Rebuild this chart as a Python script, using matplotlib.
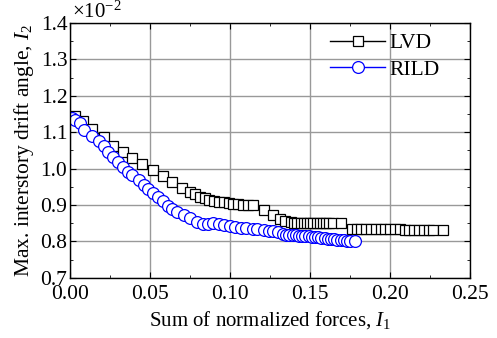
import matplotlib.pyplot as plt
from matplotlib.ticker import MultipleLocator, FormatStrFormatter

plt.rcParams['font.family'] = 'Liberation Serif'
plt.rcParams['mathtext.fontset'] = 'custom'
plt.rcParams['mathtext.rm'] = 'Liberation Serif'
plt.rcParams['mathtext.it'] = 'Liberation Serif:italic'

# LVD (squares)
lvd_x = [0.003, 0.008, 0.014, 0.021, 0.027, 0.033, 0.039, 0.045, 0.052, 0.058,
         0.064, 0.070, 0.075, 0.078, 0.081, 0.084, 0.087, 0.090, 0.093, 0.096,
         0.099, 0.102, 0.105, 0.108, 0.111, 0.114, 0.121, 0.127, 0.131, 0.134,
         0.138, 0.140, 0.142, 0.144, 0.146, 0.148, 0.150, 0.152, 0.154, 0.156,
         0.158, 0.160, 0.162, 0.164, 0.169, 0.176, 0.179, 0.182, 0.185, 0.188,
         0.191, 0.194, 0.197, 0.200, 0.203, 0.206, 0.209, 0.212, 0.215, 0.218,
         0.221, 0.224, 0.227, 0.233]
lvd_y = [1.145, 1.130, 1.108, 1.086, 1.062, 1.047, 1.030, 1.012, 0.997, 0.979,
         0.962, 0.948, 0.937, 0.929, 0.922, 0.918, 0.915, 0.912, 0.909, 0.907,
         0.905, 0.903, 0.902, 0.901, 0.900, 0.899, 0.887, 0.873, 0.862, 0.855,
         0.852, 0.851, 0.851, 0.851, 0.851, 0.851, 0.851, 0.851, 0.851, 0.851,
         0.851, 0.851, 0.851, 0.851, 0.851, 0.834, 0.834, 0.834, 0.833, 0.833,
         0.833, 0.833, 0.833, 0.833, 0.833, 0.833, 0.832, 0.832, 0.832, 0.832,
         0.832, 0.832, 0.832, 0.832]

# RILD (circles)
rild_x = [0.001, 0.003, 0.006, 0.009, 0.014, 0.018, 0.021, 0.024, 0.027, 0.030,
          0.033, 0.036, 0.039, 0.043, 0.046, 0.049, 0.052, 0.055, 0.058, 0.061,
          0.064, 0.067, 0.071, 0.075, 0.079, 0.083, 0.086, 0.089, 0.093, 0.096,
          0.100, 0.103, 0.107, 0.110, 0.114, 0.117, 0.121, 0.124, 0.127, 0.130,
          0.133, 0.135, 0.137, 0.139, 0.141, 0.143, 0.145, 0.147, 0.149, 0.151,
          0.153, 0.155, 0.157, 0.159, 0.161, 0.163, 0.165, 0.167, 0.169, 0.171,
          0.173, 0.175, 0.178]
rild_y = [1.140, 1.133, 1.125, 1.107, 1.090, 1.075, 1.061, 1.047, 1.033, 1.019,
          1.005, 0.992, 0.982, 0.969, 0.956, 0.943, 0.934, 0.921, 0.910, 0.897,
          0.888, 0.880, 0.872, 0.864, 0.854, 0.848, 0.849, 0.850, 0.848, 0.845,
          0.842, 0.840, 0.838, 0.837, 0.835, 0.833, 0.831, 0.830, 0.828, 0.826,
          0.820, 0.819, 0.818, 0.818, 0.817, 0.816, 0.815, 0.814, 0.814, 0.813,
          0.812, 0.811, 0.810, 0.809, 0.808, 0.807, 0.806, 0.805, 0.804, 0.803,
          0.802, 0.801, 0.800]

fig = plt.figure(figsize=(4.97, 3.38), dpi=100)
ax = fig.add_axes([0.141, 0.178, 0.805, 0.754])

ax.plot(lvd_x, lvd_y, color='black', lw=1, marker='s', ms=7.5,
        mfc='white', mec='black', mew=0.9, label='LVD')
ax.plot(rild_x, rild_y, color='#0000ff', lw=1, marker='o', ms=8.5,
        mfc='white', mec='#0000ff', mew=0.9, label='RILD')

ax.set_xlim(0, 0.25)
ax.set_ylim(0.7, 1.4)
ax.xaxis.set_major_locator(MultipleLocator(0.05))
ax.xaxis.set_minor_locator(MultipleLocator(0.025))
ax.yaxis.set_major_locator(MultipleLocator(0.1))
ax.yaxis.set_minor_locator(MultipleLocator(0.05))
ax.xaxis.set_major_formatter(FormatStrFormatter('%.2f'))
ax.yaxis.set_major_formatter(FormatStrFormatter('%.1f'))
ax.tick_params(which='both', direction='in', top=True, right=True, labelsize=15.5)
ax.tick_params(which='major', length=4)
ax.tick_params(which='minor', length=2)
ax.tick_params(axis='x', which='major', pad=5)
ax.tick_params(axis='y', which='major', pad=2)
ax.grid(True, which='major', color='#999999', lw=1)
ax.set_axisbelow(True)
for s in ax.spines.values():
    s.set_linewidth(1)

ax.set_xlabel('Sum of normalized forces, $I_1$', fontsize=15, labelpad=4)
ax.set_ylabel('Max. interstory drift angle, $I_2$', fontsize=15.5, labelpad=3)
ax.text(0.005, 1.0, r'$\times$10$^{-2}$', transform=ax.transAxes,
        fontsize=15, ha='left', va='bottom')

ax.legend(loc='upper right', bbox_to_anchor=(0.957, 1.01), frameon=False,
          fontsize=15.5, handlelength=2.6, handletextpad=0.2, labelspacing=0.3,
          borderaxespad=0.2)

fig.savefig('out.png', dpi=100)
